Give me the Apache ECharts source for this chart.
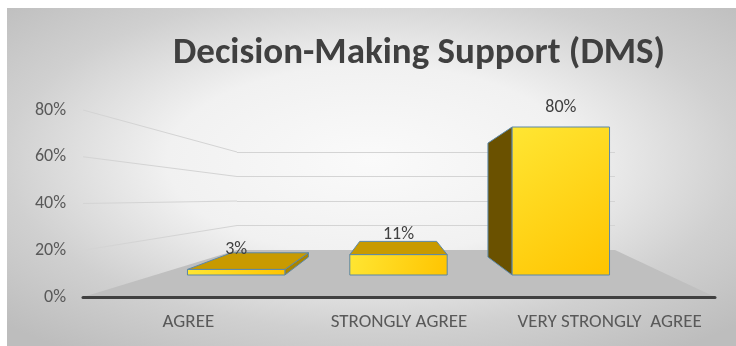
<!DOCTYPE html>
<html>

<head>
  <meta charset="utf-8">
  <title>DMS</title>
  <script src="https://cdn.jsdelivr.net/npm/echarts@6/dist/echarts.min.js"></script>
  <style>
    html, body { margin: 0; padding: 0; background: #fff; }
    #main { width: 736px; height: 346px; }
  </style>
</head>

<body>
  <div id="main"></div>
  <script>
    var categories = ['AGREE', 'STRONGLY AGREE', 'VERY STRONGLY  AGREE'];
    var values = [3, 11, 80];
    var yTicks = [0, 20, 40, 60, 80];

    var font = 'Carlito, Lato, sans-serif';
    var colors = {
      front: ['#ffe633', '#ffc400'], top: '#c89a00', left: '#6a5100', right: '#a88400',
      edge: '#5b87a8', floor: '#bfbfbf', grid: '#d4d4d4', text: '#595959', label: '#404040'
    };
    // back face of a bar = front face pulled towards this point
    var vp = { x: 397, y: 197, sx: 0.79, sy: 0.77 };

    var myChart = echarts.init(document.getElementById('main'));

    myChart.setOption({
      animation: false,
      graphic: [{
        type: 'rect', x: 7, y: 8, scaleY: 338 / 729, z: -10, silent: true,
        shape: { x: 0, y: 0, width: 729, height: 729 },
        style: {
          fill: new echarts.graphic.RadialGradient(0.5, 0.45, 0.7, [
            { offset: 0, color: '#fafafa' },
            { offset: 0.4, color: '#f1f1f1' },
            { offset: 0.72, color: '#d0d0d0' },
            { offset: 1, color: '#bdbdbd' }
          ])
        }
      }],
      title: {
        text: 'Decision-Making Support (DMS)',
        left: 419, top: 35, textAlign: 'center', padding: 0,
        textStyle: { fontFamily: font, fontWeight: 'bold', fontSize: 37, color: '#404040' }
      },
      grid: [
        { left: 83, right: 21, top: 110, height: 187 },  // front axis
        { left: 155, right: 94, top: 127, height: 148 }, // bar fronts
        { left: 237, right: 121, top: 152, height: 98 }  // back wall
      ],
      xAxis: [
        {
          gridIndex: 0, type: 'category', data: categories, z: 5,
          axisTick: { show: false },
          axisLine: { lineStyle: { color: '#404040', width: 3 } },
          axisLabel: { interval: 0, hideOverlap: false, color: colors.text, fontFamily: font, fontSize: 19, margin: 16 }
        },
        { gridIndex: 1, type: 'category', data: categories, show: false },
        { gridIndex: 2, type: 'value', min: 0, max: 1, show: false }
      ],
      yAxis: [
        {
          gridIndex: 0, type: 'value', min: 0, max: 80, interval: 20,
          axisLine: { show: false }, axisTick: { show: false }, splitLine: { show: false },
          axisLabel: { formatter: '{value}%', color: colors.text, fontFamily: font, fontSize: 18, margin: 17 }
        },
        { gridIndex: 1, type: 'value', min: 0, max: 80, show: false },
        {
          gridIndex: 2, type: 'value', min: 0, max: 80, interval: 20,
          axisLine: { show: false }, axisTick: { show: false }, axisLabel: { show: false },
          splitLine: { lineStyle: { color: colors.grid } }
        }
      ]
    });

    var backLeft = myChart.convertToPixel({ xAxisIndex: 2 }, 0);
    var backRight = myChart.convertToPixel({ xAxisIndex: 2 }, 1);
    function backY(v) {
      return myChart.convertToPixel({ yAxisIndex: 2 }, v);
    }
    function back(p) {
      return [vp.x + vp.sx * (p[0] - vp.x), vp.y + vp.sy * (p[1] - vp.y)];
    }

    myChart.setOption({
      series: [
        {
          // floor
          type: 'custom', xAxisIndex: 0, yAxisIndex: 0, z: 1, silent: true,
          data: [[0, 0]],
          renderItem: function (params, api) {
            var cs = params.coordSys;
            var y0 = api.coord([0, 0])[1];
            return {
              type: 'polygon',
              shape: { points: [[cs.x, y0], [cs.x + cs.width, y0], [backRight, backY(0)], [backLeft, backY(0)]] },
              style: { fill: colors.floor }
            };
          }
        },
        {
          // side wall grid lines
          type: 'custom', xAxisIndex: 0, yAxisIndex: 0, z: 1, silent: true,
          data: yTicks.slice(1).map(function (v) { return [0, v]; }),
          renderItem: function (params, api) {
            var cs = params.coordSys;
            var v = api.value(1);
            return {
              type: 'line',
              shape: { x1: cs.x, y1: api.coord([0, v])[1], x2: backLeft, y2: backY(v) },
              style: { stroke: colors.grid, lineWidth: 1 }
            };
          }
        },
        {
          type: 'custom', xAxisIndex: 1, yAxisIndex: 1, z: 3,
          data: values.map(function (v, i) { return [i, v]; }),
          renderItem: function (params, api) {
            var i = api.value(0), v = api.value(1);
            var top = api.coord([i, v]), base = api.coord([i, 0]);
            var w = api.size([1, 0])[0] * 0.6;
            var x0 = top[0] - w / 2, x1 = top[0] + w / 2, y0 = top[1], y1 = base[1];
            var children = [];
            function face(pts, fill) {
              children.push({
                type: 'polygon', shape: { points: pts },
                style: { fill: fill, stroke: colors.edge, lineWidth: 1 }
              });
            }
            if (x0 > vp.x) face([[x0, y0], [x0, y1], back([x0, y1]), back([x0, y0])], colors.left);
            if (x1 < vp.x) face([[x1, y0], [x1, y1], back([x1, y1]), back([x1, y0])], colors.right);
            if (y0 > vp.y) face([[x0, y0], [x1, y0], back([x1, y0]), back([x0, y0])], colors.top);
            children.push({
              type: 'rect',
              shape: { x: x0, y: y0, width: w, height: y1 - y0 },
              style: {
                fill: new echarts.graphic.LinearGradient(0, 0, 1, 1, [
                  { offset: 0, color: colors.front[0] },
                  { offset: 1, color: colors.front[1] }
                ]),
                stroke: colors.edge, lineWidth: 1
              }
            });
            children.push({
              type: 'text',
              style: {
                text: v + '%', x: top[0], y: y0 - 20, align: 'center', verticalAlign: 'middle',
                fill: colors.label, fontFamily: font, fontSize: 18
              }
            });
            return { type: 'group', children: children };
          }
        }
      ]
    });
  </script>
</body>

</html>
